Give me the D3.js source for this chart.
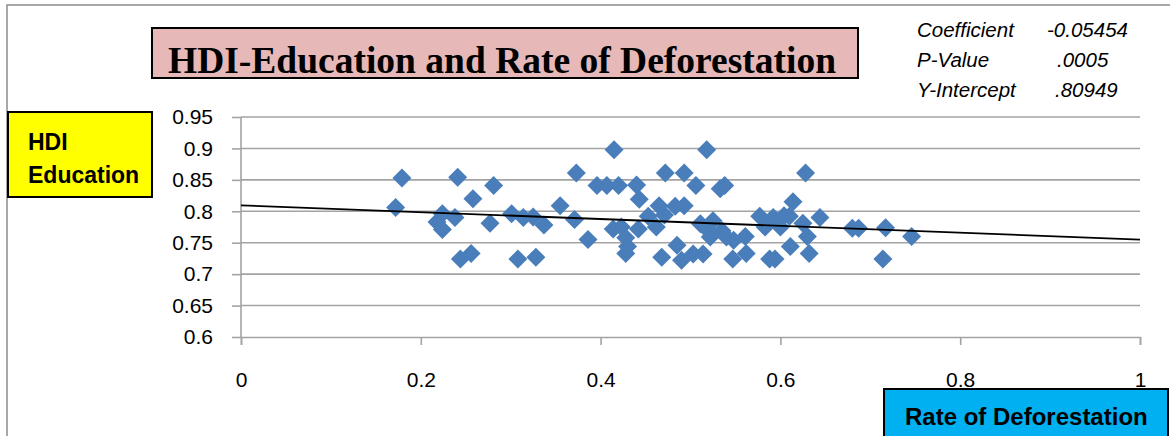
<!DOCTYPE html>
<html>
<head>
<meta charset="utf-8">
<script src="https://cdn.jsdelivr.net/npm/d3@7"></script>
<style>
  body { margin: 0; background: #fff; }
  text { font-family: "Liberation Sans", Arial, sans-serif; }
</style>
</head>
<body>
<svg id="chart" width="1170" height="436"></svg>
<script>
// rate of deforestation (x) and HDI education (y)
var rateDeforestation = [0.179, 0.172, 0.241, 0.281, 0.258, 0.218, 0.224, 0.238, 0.224, 0.277,
  0.244, 0.256, 0.301, 0.314, 0.325, 0.337, 0.308, 0.328, 0.355, 0.371,
  0.386, 0.373, 0.415, 0.396, 0.407, 0.420, 0.440, 0.443, 0.414, 0.423,
  0.428, 0.430, 0.428, 0.442, 0.453, 0.462, 0.465, 0.471, 0.483, 0.493,
  0.472, 0.493, 0.506, 0.518, 0.538, 0.533, 0.485, 0.468, 0.490, 0.503,
  0.514, 0.511, 0.518, 0.525, 0.522, 0.535, 0.540, 0.548, 0.547, 0.561,
  0.562, 0.628, 0.614, 0.577, 0.583, 0.592, 0.600, 0.604, 0.610, 0.625,
  0.630, 0.644, 0.611, 0.632, 0.588, 0.594, 0.680, 0.687, 0.717, 0.746, 0.714];
var hdiEducation = [0.853, 0.806, 0.854, 0.841, 0.820, 0.783, 0.796, 0.790, 0.771, 0.781,
  0.724, 0.733, 0.796, 0.790, 0.791, 0.778, 0.724, 0.727, 0.809, 0.787,
  0.755, 0.861, 0.898, 0.841, 0.841, 0.841, 0.842, 0.819, 0.772, 0.775,
  0.758, 0.744, 0.733, 0.772, 0.792, 0.775, 0.809, 0.794, 0.808, 0.809,
  0.861, 0.861, 0.841, 0.898, 0.841, 0.836, 0.746, 0.727, 0.722, 0.732,
  0.732, 0.780, 0.772, 0.785, 0.759, 0.769, 0.759, 0.754, 0.724, 0.760,
  0.733, 0.861, 0.815, 0.792, 0.775, 0.790, 0.775, 0.793, 0.792, 0.781,
  0.760, 0.790, 0.744, 0.733, 0.724, 0.724, 0.773, 0.773, 0.774, 0.760, 0.724];

var xTicks = [0, 0.2, 0.4, 0.6, 0.8, 1];
var yTicks = [0.6, 0.65, 0.7, 0.75, 0.8, 0.85, 0.9, 0.95];

var statLabels = ["Coefficient", "P-Value", "Y-Intercept"];
var statValues = ["-0.05454", ".0005", ".80949"];
var coefficient = -0.05454, intercept = 0.80949;

var svg = d3.select("#chart");

// outer chart border (cut off right and bottom like the screenshot)
svg.append("rect")
   .attr("x", 7).attr("y", 5)
   .attr("width", 1200).attr("height", 500)
   .attr("fill", "none")
   .attr("stroke", "#8c8c8c")
   .attr("stroke-width", 1.5);

var x = d3.scaleLinear().domain([0, 1]).range([241, 1140]);
var y = d3.scaleLinear().domain([0.6, 0.95]).range([337, 117]);

// horizontal gridlines
svg.append("g")
   .selectAll("line")
   .data(yTicks.slice(1))
   .enter().append("line")
   .attr("x1", x(0)).attr("x2", x(1))
   .attr("y1", function(d) { return y(d); })
   .attr("y2", function(d) { return y(d); })
   .attr("stroke", "#a3a3a3")
   .attr("stroke-width", 1.6);

// y axis
var yAxis = svg.append("g")
   .attr("transform", "translate(" + x(0) + ",0)")
   .call(d3.axisLeft(y).tickValues(yTicks).tickSize(9).tickPadding(19)
         .tickFormat(function(d) { return d3.format("")(+d.toFixed(2)); }));
// x axis
var xAxis = svg.append("g")
   .attr("transform", "translate(0," + y(0.6) + ")")
   .call(d3.axisBottom(x).tickValues(xTicks).tickSize(8).tickPadding(27)
         .tickFormat(function(d) { return d3.format("")(+d.toFixed(1)); }));

[yAxis, xAxis].forEach(function(ax) {
  ax.selectAll("path, line").attr("stroke", "#a3a3a3").attr("stroke-width", 1.6);
  ax.selectAll("text")
    .attr("fill", "#000")
    .style("font-size", "21px")
    .style("font-family", "'Liberation Sans', Arial, sans-serif");
});
yAxis.select(".domain").attr("d", "M0," + y(0.95) + "V" + y(0.6));

// diamonds
var r = 9.5;
var points = rateDeforestation.map(function(v, i) { return {x: v, y: hdiEducation[i]}; });
svg.append("g")
   .selectAll("path")
   .data(points)
   .enter().append("path")
   .attr("d", "M0," + (-r) + "L" + r + ",0L0," + r + "L" + (-r) + ",0Z")
   .attr("transform", function(d) { return "translate(" + x(d.x) + "," + y(d.y) + ")"; })
   .attr("fill", "#4a7ebb");

// trend line from the regression coefficients
svg.append("line")
   .attr("x1", x(0)).attr("y1", y(intercept))
   .attr("x2", x(1)).attr("y2", y(intercept + coefficient))
   .attr("stroke", "#000")
   .attr("stroke-width", 1.8);

// title box
svg.append("rect")
   .attr("x", 152).attr("y", 28).attr("width", 706).attr("height", 50)
   .attr("fill", "#e6b9b8")
   .attr("stroke", "#000").attr("stroke-width", 2);
svg.append("text")
   .attr("x", 502).attr("y", 73)
   .attr("text-anchor", "middle")
   .style("font-family", "'Liberation Serif', 'Times New Roman', serif")
   .style("font-weight", "bold")
   .style("font-size", "37.5px")
   .text("HDI-Education and Rate of Deforestation");

// stats block
svg.append("g").selectAll("text")
   .data(statLabels)
   .enter().append("text")
   .attr("x", 917).attr("y", function(d, i) { return 37 + i * 30; })
   .style("font-style", "italic").style("font-size", "20.5px")
   .text(function(d) { return d; });
var valueX = [1047, 1057, 1055];
svg.append("g").selectAll("text")
   .data(statValues)
   .enter().append("text")
   .attr("x", function(d, i) { return valueX[i]; })
   .attr("y", function(d, i) { return 37 + i * 30; })
   .style("font-style", "italic").style("font-size", "20.5px")
   .text(function(d) { return d; });

// y axis title box
svg.append("rect")
   .attr("x", 8).attr("y", 112).attr("width", 144).attr("height", 85)
   .attr("fill", "#ffff00")
   .attr("stroke", "#000").attr("stroke-width", 2);
svg.append("text")
   .attr("x", 28).attr("y", 150)
   .style("font-weight", "bold").style("font-size", "23px")
   .text("HDI");
svg.append("text")
   .attr("x", 28).attr("y", 183)
   .style("font-weight", "bold").style("font-size", "23px")
   .text("Education");

// x axis title box
svg.append("rect")
   .attr("x", 884).attr("y", 389).attr("width", 284).attr("height", 60)
   .attr("fill", "#00b0f0")
   .attr("stroke", "#000").attr("stroke-width", 2);
svg.append("text")
   .attr("x", 905).attr("y", 425)
   .style("font-weight", "bold").style("font-size", "24px")
   .text("Rate of Deforestation");
</script>
</body>
</html>
